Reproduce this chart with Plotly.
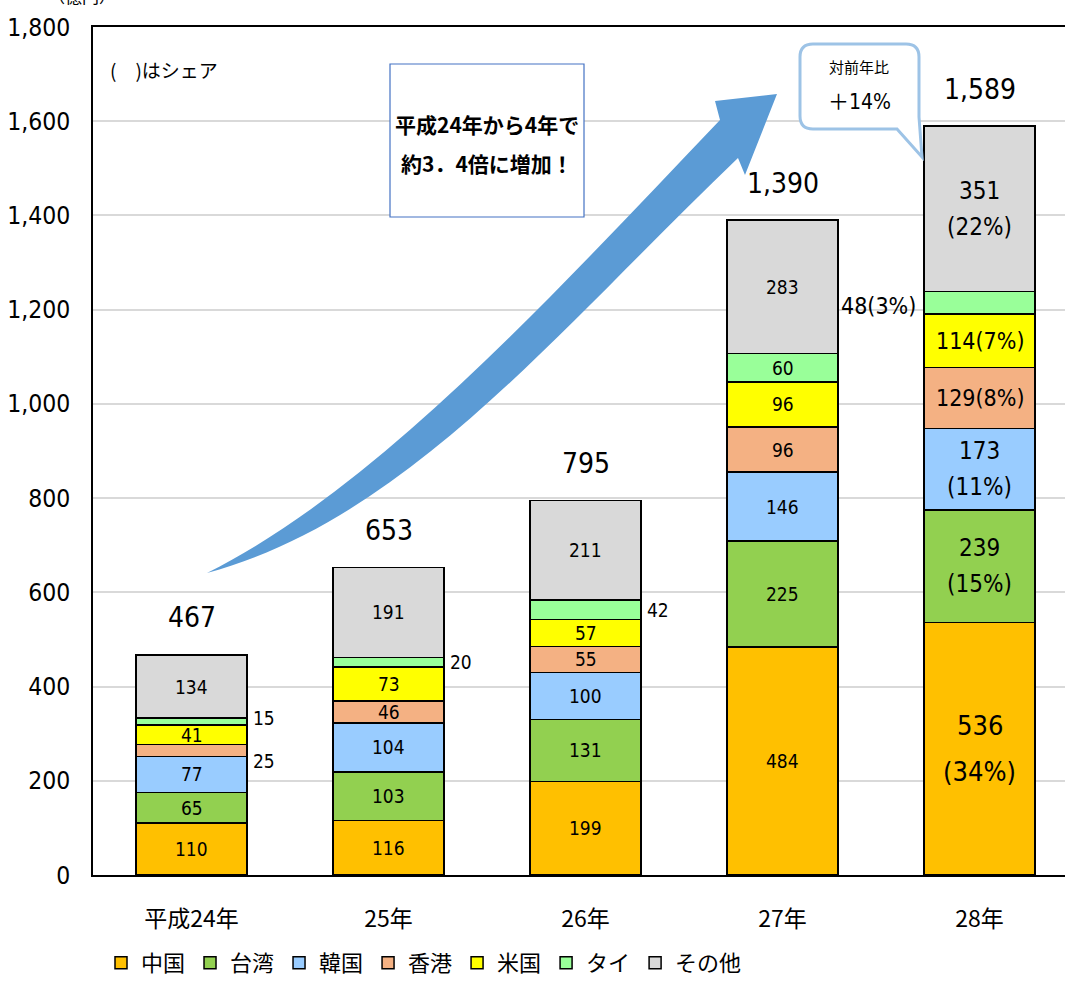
import plotly.graph_objects as go

# ---------------- data ----------------
years = ["平成24年", "25年", "26年", "27年", "28年"]
series_names = ["中国", "台湾", "韓国", "香港", "米国", "タイ", "その他"]
china = [110, 116, 199, 484, 536]
taiwan = [65, 103, 131, 225, 239]
korea = [77, 104, 100, 146, 173]
hongkong = [25, 46, 55, 96, 129]
usa = [41, 73, 57, 96, 114]
thailand = [15, 20, 42, 60, 48]
others = [134, 191, 211, 283, 351]
totals = [467, 653, 795, 1390, 1589]
y_ticks = [0, 200, 400, 600, 800, 1000, 1200, 1400, 1600, 1800]
colors = ["#FFC000", "#92D050", "#99CCFF", "#F4B183", "#FFFF00", "#99FF99", "#D9D9D9"]
series = [china, taiwan, korea, hongkong, usa, thailand, others]

FONT = "Liberation Sans Narrow, DejaVu Sans Condensed, Noto Sans CJK JP, sans-serif"
JFONT = "Noto Sans CJK JP, sans-serif"

W, H = 1065, 985
ML, MR, MT, MB = 93, 0, 27, 110
PW, PH = W - ML - MR, H - MT - MB


def px(x):
    return (x - ML) / PW


def py(y):
    return (H - MB - y) / PH


fig = go.Figure()
for name, vals, col in zip(series_names, series, colors):
    fig.add_trace(go.Bar(
        x=years, y=vals, name=name,
        marker=dict(color=col, line=dict(color="black", width=1.5)),
        hoverinfo="x+y+name",
    ))

annotations = []

# outside label placement (series index, year index) -> (side, yshift)
outside = {(3, 0): ("right", -11), (5, 0): ("right", 4), (5, 1): ("right", 0),
           (5, 2): ("right", 0), (5, 4): ("left", -3)}
half_bar = 0.563 / 2 * (PW / 4.934)

for yi, yr in enumerate(years):
    base = 0
    total = totals[yi]
    for si, vals in enumerate(series):
        v = vals[yi]
        mid = base + v / 2
        base += v
        last = yi == len(years) - 1
        if (si, yi) in outside:
            side, ys = outside[(si, yi)]
            txt = str(v) if not last else f"{v}({round(v / total * 100)}%)"
            annotations.append(dict(
                x=yr, y=mid, xref="x", yref="y", text=txt, showarrow=False,
                xanchor="left" if side == "right" else "right", yanchor="middle",
                xshift=(half_bar + 4) if side == "right" else -(half_bar + 6),
                yshift=ys, font=dict(family=FONT, size=19 if not last else 23, color="black")))
            continue
        if not last:
            annotations.append(dict(
                x=yr, y=mid, xref="x", yref="y", text=str(v), showarrow=False,
                xanchor="center", yanchor="middle",
                font=dict(family=FONT, size=19, color="black")))
        else:
            share = f"({round(v / total * 100)}%)"
            if si in (3, 4):
                annotations.append(dict(
                    x=yr, y=mid, xref="x", yref="y", text=f"{v}{share}", showarrow=False,
                    xanchor="center", yanchor="middle",
                    font=dict(family=FONT, size=23, color="black")))
            else:
                size = 27 if si == 0 else 24
                gap = 23 if si == 0 else 18
                annotations.append(dict(
                    x=yr, y=mid, xref="x", yref="y", text=str(v), showarrow=False,
                    xanchor="center", yanchor="middle",
                    yshift=gap, font=dict(family=FONT, size=size, color="black")))
                annotations.append(dict(
                    x=yr, y=mid, xref="x", yref="y", text=share, showarrow=False,
                    xanchor="center", yanchor="middle",
                    yshift=-gap, font=dict(family=FONT, size=size, color="black")))

# totals above bars
for yr, t in zip(years, totals):
    annotations.append(dict(
        x=yr, y=t, xref="x", yref="y", text=f"{t:,}", showarrow=False,
        xanchor="center", yanchor="middle",
        yshift=37, font=dict(family=FONT, size=28, color="black")))


def ptext(x, y, text, size, family=FONT, weight="normal", xanchor="center"):
    return dict(x=px(x), y=py(y), xref="paper", yref="paper", text=text, showarrow=False,
                xanchor=xanchor, yanchor="middle",
                font=dict(family=family, size=size, color="black", weight=weight))


annotations += [
    ptext(82, -4, "（億円）", 17, JFONT),
    ptext(108, 70, "(　)はシェア", 19, JFONT, xanchor="left"),
    ptext(487, 124, "平成24年から4年で", 21, JFONT, "bold"),
    ptext(487, 163, "約3．4倍に増加！", 21, JFONT, "bold"),
    ptext(859, 66, "対前年比", 15, JFONT),
    ptext(859, 102, "＋14%", 21, FONT),
]


def P(x, y):
    return f"{px(x):.5f},{py(y):.5f}"


arrow = (f"M {P(207,573)} C {P(377,488)} {P(550,298)} {P(720,120)} "
         f"L {P(715,101)} L {P(777,94)} L {P(745,175)} L {P(738,158)} "
         f"C {P(558,330)} {P(407,519)} {P(207,573)} Z")

callout = (f"M {P(813,44)} L {P(906,44)} Q {P(919,44)} {P(919,57)} L {P(919,117)} "
           f"L {P(922,157)} L {P(897,129)} L {P(813,129)} Q {P(800,129)} {P(800,116)} "
           f"L {P(800,57)} Q {P(800,44)} {P(813,44)} Z")

shapes = [
    dict(type="path", path=arrow, xref="paper", yref="paper", fillcolor="#5B9BD5",
         line=dict(width=0), layer="above"),
    dict(type="rect", x0=px(390), x1=px(584), y0=py(217), y1=py(64), xref="paper", yref="paper",
         fillcolor="white", line=dict(color="#4472C4", width=1.2), layer="above"),
    dict(type="path", path=callout, xref="paper", yref="paper", fillcolor="white",
         line=dict(color="#9DC3E6", width=3), layer="above"),
]

fig.update_layout(
    width=W, height=H,
    margin=dict(l=ML, r=MR, t=MT, b=MB),
    barmode="stack", bargap=0.437,
    plot_bgcolor="white", paper_bgcolor="white",
    font=dict(family=FONT, color="black"),
    annotations=annotations, shapes=shapes,
    legend=dict(orientation="h", x=px(101), xanchor="left", y=py(984), yanchor="bottom",
                font=dict(family=JFONT, size=22, color="black"), traceorder="normal",
                bgcolor="rgba(0,0,0,0)"),
    xaxis=dict(type="category", range=[-0.5, 4.434], showline=True, mirror=True,
               linecolor="black", linewidth=2, ticks="", showgrid=False,
               tickfont=dict(family=JFONT, size=23, color="black"), ticklabelstandoff=22),
    yaxis=dict(range=[0, 1800], tickvals=y_ticks, tickformat=",", showline=True,
               linecolor="black", linewidth=1.5, gridcolor="#D9D9D9", gridwidth=1.5,
               zeroline=False, ticks="", ticklabelstandoff=16,
               tickfont=dict(family=FONT, size=24.5, color="black")),
)

fig.write_html("out.html", config={"displayModeBar": False},
               post_script="document.body.style.margin='0';document.body.style.overflow='hidden';")
